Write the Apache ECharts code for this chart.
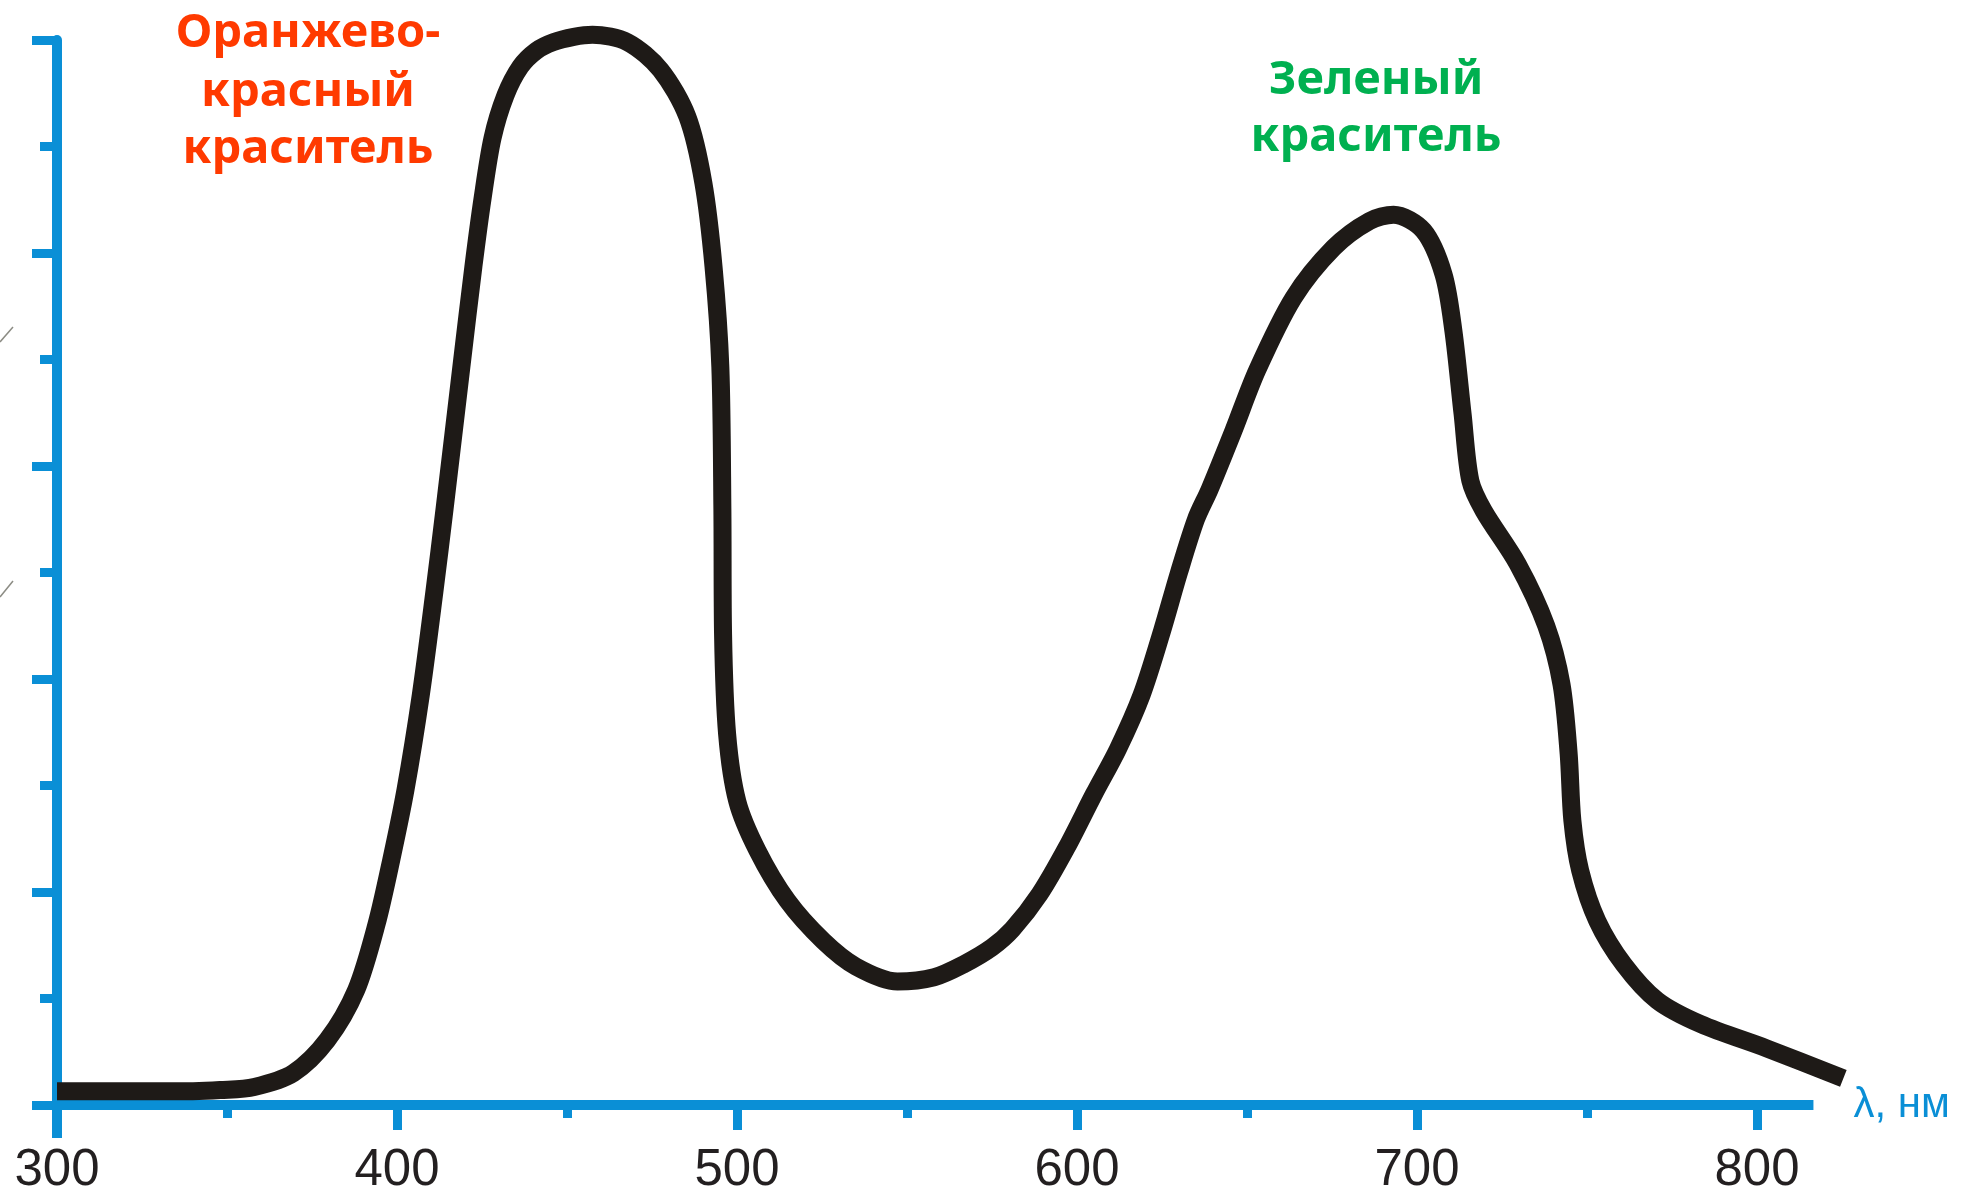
<!DOCTYPE html>
<html><head><meta charset="utf-8">
<script src="https://cdn.jsdelivr.net/npm/echarts@6/dist/echarts.min.js"></script>
<style>html,body{margin:0;padding:0;background:#fff}#c{width:1972px;height:1196px}</style>
</head><body><div id="c"></div>
<script>
// ---- data ----
const wavelengths = [300,320,340,348,358,369.5,379.5,388,394,398.3,402.5,407,411,414,419,422.5,425.2,428.1,431.9,436.3,441,446,452,457.5,467.8,477.5,485.4,490.1,493.1,495.1,495.7,495.9,497.1,500.1,506,514.8,525.4,535,547.2,558,566.6,575,581,589,597,605,612,619,625,630,635,639,646,653,663.7,675.5,686,693.1,701.9,707.8,710.7,713.4,715.7,719.6,729.6,738,742.5,744.6,745.7,748,753,760.8,770.7,783.4,803,825.4];
const absorbance  = [0.13,0.13,0.13,0.14,0.17,0.30,0.61,1.08,1.7,2.3,2.96,3.85,4.82,5.6,6.95,7.88,8.52,9.08,9.48,9.75,9.9,9.98,10.03,10.05,9.98,9.72,9.28,8.66,7.87,6.93,5.6,4.42,3.48,2.85,2.39,1.92,1.54,1.3,1.16,1.2,1.32,1.48,1.65,1.98,2.42,2.92,3.34,3.85,4.45,5.0,5.5,5.78,6.33,6.9,7.58,8.05,8.3,8.36,8.21,7.8,7.27,6.49,5.86,5.58,5.08,4.5,3.95,3.3,2.67,2.2,1.73,1.32,0.98,0.76,0.53,0.25];
const xMajorTicks = [300,400,500,600,700,800];
const xMinorTicks = [350,450,550,650,750];
const xAxisEnd = 816.6;
const xAxisName = 'λ, нм';
const orangeLabel = ['Оранжево-','красный','краситель'];
const greenLabel = ['Зеленый','краситель'];

const BLUE = '#0a8fd6';
const chart = echarts.init(document.getElementById('c'), null, {renderer:'canvas'});
const X_MIN = 300, X_MAX = 830;

const graphics = [];
orangeLabel.forEach((t,i)=>graphics.push({type:'text', x:308, y:[34,93,150][i], z:10,
  style:{text:t, align:'center', verticalAlign:'middle', fontFamily:'"Noto Sans"', fontWeight:'bold', fontSize:47, fill:'#ff3a00'}}));
greenLabel.forEach((t,i)=>graphics.push({type:'text', x:1376, y:[81,138][i], z:10,
  style:{text:t, align:'center', verticalAlign:'middle', fontFamily:'"Noto Sans"', fontWeight:'bold', fontSize:47, fill:'#00b050'}}));
graphics.push({type:'line', shape:{x1:0,y1:342,x2:13,y2:327}, style:{stroke:'#8c8c84', lineWidth:1.5}});
graphics.push({type:'line', shape:{x1:0,y1:597,x2:13,y2:581}, style:{stroke:'#8c8c84', lineWidth:1.5}});

const FONT = '"Liberation Sans", Arial, sans-serif';
chart.setOption({
  animation:false,
  backgroundColor:'#ffffff',
  grid:{left:57, right:113, top:40, bottom:91, outerBoundsMode:'none', containLabel:false},
  xAxis:[
    {type:'value', min:X_MIN, max:X_MAX, position:'bottom',
     axisLine:{show:false, onZero:false},
     axisTick:{show:true, customValues:xMajorTicks, length:25, lineStyle:{color:BLUE, width:9}},
     axisLabel:{show:true, customValues:xMajorTicks, margin:40, fontSize:51, fontFamily:FONT, color:'#231f20'},
     splitLine:{show:false}},
    {type:'value', min:X_MIN, max:X_MAX, position:'bottom',
     axisLine:{show:false, onZero:false},
     axisTick:{show:true, customValues:xMinorTicks, length:13, lineStyle:{color:BLUE, width:9}},
     axisLabel:{show:false}, splitLine:{show:false}},
    {type:'value', min:X_MIN, max:X_MAX, position:'bottom',
     axisLine:{show:false, onZero:false},
     axisTick:{show:true, customValues:[X_MIN], length:33, lineStyle:{color:BLUE, width:10}},
     axisLabel:{show:false}, splitLine:{show:false}}
  ],
  yAxis:{type:'value', min:0, max:10, interval:2, position:'left',
    axisLine:{show:true, onZero:false, lineStyle:{color:BLUE, width:10}},
    axisTick:{show:true, length:25, lineStyle:{color:BLUE, width:9}},
    minorTick:{show:true, splitNumber:2, length:17, lineStyle:{color:BLUE, width:9}},
    axisLabel:{show:false}, splitLine:{show:false}, minorSplitLine:{show:false}},
  graphic:graphics,
  series:[{
    type:'line', xAxisIndex:0, yAxisIndex:0,
    data: wavelengths.map((w,i)=>[w, absorbance[i]]),
    showSymbol:false, symbol:'none', smooth:0.3, clip:false, z:5,
    lineStyle:{color:'#1e1a17', width:18, cap:'butt', join:'round'},
    markLine:{
      silent:true, symbol:['none','none'], animation:false, z:4,
      lineStyle:{color:BLUE, width:10, type:'solid', cap:'butt'},
      label:{show:true, position:'end', distance:40, formatter:xAxisName, color:BLUE, fontSize:42, fontFamily:FONT},
      emphasis:{disabled:true},
      data:[[{coord:[X_MIN,0]},{coord:[xAxisEnd,0]}]]
    }
  }]
});
</script></body></html>
